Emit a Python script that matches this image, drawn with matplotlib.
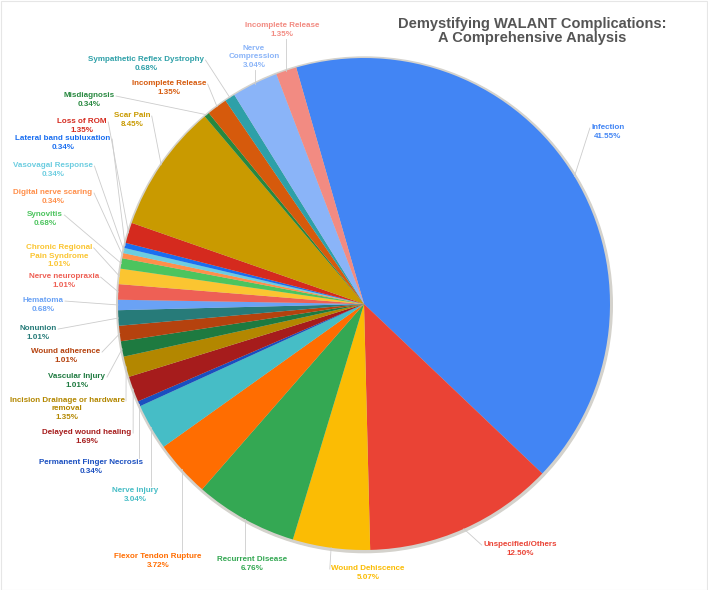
import matplotlib
matplotlib.use('Agg')
from matplotlib import pyplot as plt
from matplotlib.patches import Circle, Rectangle
import numpy as np

# slices in drawing order, clockwise from Infection
labels = ['Infection', 'Unspecified/Others', 'Wound Dehiscence', 'Recurrent Disease',
          'Flexor Tendon Rupture', 'Nerve injury', 'Permanent Finger Necrosis',
          'Delayed wound healing', 'Incision Drainage or hardware\nremoval',
          'Vascular Injury', 'Wound adherence', 'Nonunion', 'Hematoma',
          'Nerve neuropraxia', 'Chronic Regional\nPain Syndrome', 'Synovitis',
          'Digital nerve scaring', 'Vasovagal Response', 'Lateral band subluxation',
          'Loss of ROM', 'Scar Pain', 'Misdiagnosis', 'Incomplete Release',
          'Sympathetic Reflex Dystrophy', 'Nerve\nCompression', 'Incomplete Release']
values = [41.55, 12.50, 5.07, 6.76, 3.72, 3.04, 0.34, 1.69, 1.35, 1.01, 1.01, 1.01, 0.68,
          1.01, 1.01, 0.68, 0.34, 0.34, 0.34, 1.35, 8.45, 0.34, 1.35, 0.68, 3.04, 1.35]
colors = ['#4285f4', '#ea4335', '#fbbc04', '#34a853', '#ff6d01', '#46bdc6', '#1a4fc0',
          '#a61c1c', '#b38700', '#1e7a40', '#b5420e', '#277b79', '#6aa2f5', '#ee6055',
          '#fbc531', '#4cc45e', '#ff8f4a', '#6ccde0', '#1a6ef0', '#d52a1e', '#c99a00',
          '#27883f', '#d65a0c', '#2ea0a8', '#8ab4f8', '#f28b82']

# label centres in pixels (x from left, y from top)
label_pos = [(608, 132), (520, 549), (368, 573), (252, 564), (158, 561), (135, 495),
             (91, 467), (87, 437), (67, 409), (77, 381), (66, 356), (38, 333), (43, 305),
             (64, 281), (59, 256), (45, 219), (53, 197), (53, 170), (63, 143), (82, 126),
             (132, 120), (89, 100), (169, 88), (146, 64), (254, 57), (282, 30)]

W, H = 708, 590
cx, cy, r = 364, H - 304, 246

fig = plt.figure(figsize=(W / 100, H / 100), dpi=100)
ax = fig.add_axes([0, 0, 1, 1])

ax.add_patch(Circle((cx + 0.5, cy - 0.8), r + 1.8, color='#d4d2cc', zorder=0))
wedges, _ = ax.pie(values, colors=colors, startangle=106, counterclock=False,
                   center=(cx, cy), radius=r, wedgeprops=dict(linewidth=0, zorder=1))
ax.set_xlim(0, W)
ax.set_ylim(0, H)
ax.set_aspect('equal')
ax.axis('off')

texts = []
for name, v, col, (lx, ly) in zip(labels, values, colors, label_pos):
    t = ax.text(lx, H - ly, f'{name}\n{v:.2f}%', color=col, fontsize=5.75,
                fontweight='bold', family=['Liberation Sans', 'DejaVu Sans'],
                ha='center', va='center', linespacing=1.35, zorder=3)
    texts.append(t)

# leader lines: slice edge -> first line of the label (side) or its top/bottom
fig.canvas.draw()
renderer = fig.canvas.get_renderer()
inv = ax.transData.inverted()
for w, t in zip(wedges, texts):
    mid = np.deg2rad((w.theta1 + w.theta2) / 2)
    ex, ey = cx + r * np.cos(mid), cy + r * np.sin(mid)
    bb = t.get_window_extent(renderer)
    (x0, y0), (x1, y1) = inv.transform([(bb.x0, bb.y0), (bb.x1, bb.y1)])
    nlines = t.get_text().count('\n') + 1
    first_y = y1 - (y1 - y0) / nlines / 2
    if ex > x1:
        px, py = x1 + 1.5, first_y
    elif ex < x0:
        px, py = x0 - 1.5, first_y
    elif ey > y1:
        px, py = ex, y1 + 1
    else:
        px, py = ex, y0 - 1
    ax.plot([px, ex], [py, ey], color='#cccccc', lw=0.6, zorder=2)

ax.text(532, H - 31, 'Demystifying WALANT Complications:\nA Comprehensive Analysis',
        ha='center', va='center', fontsize=10.5, fontweight='bold', color='#555555',
        family=['Liberation Sans', 'DejaVu Sans'], linespacing=1.05)

ax.add_patch(Rectangle((0.5, 0.5), W - 1.5, H - 1.5, fill=False, ec='#e6e6e6', lw=0.8))

fig.savefig('out.png', dpi=100)
